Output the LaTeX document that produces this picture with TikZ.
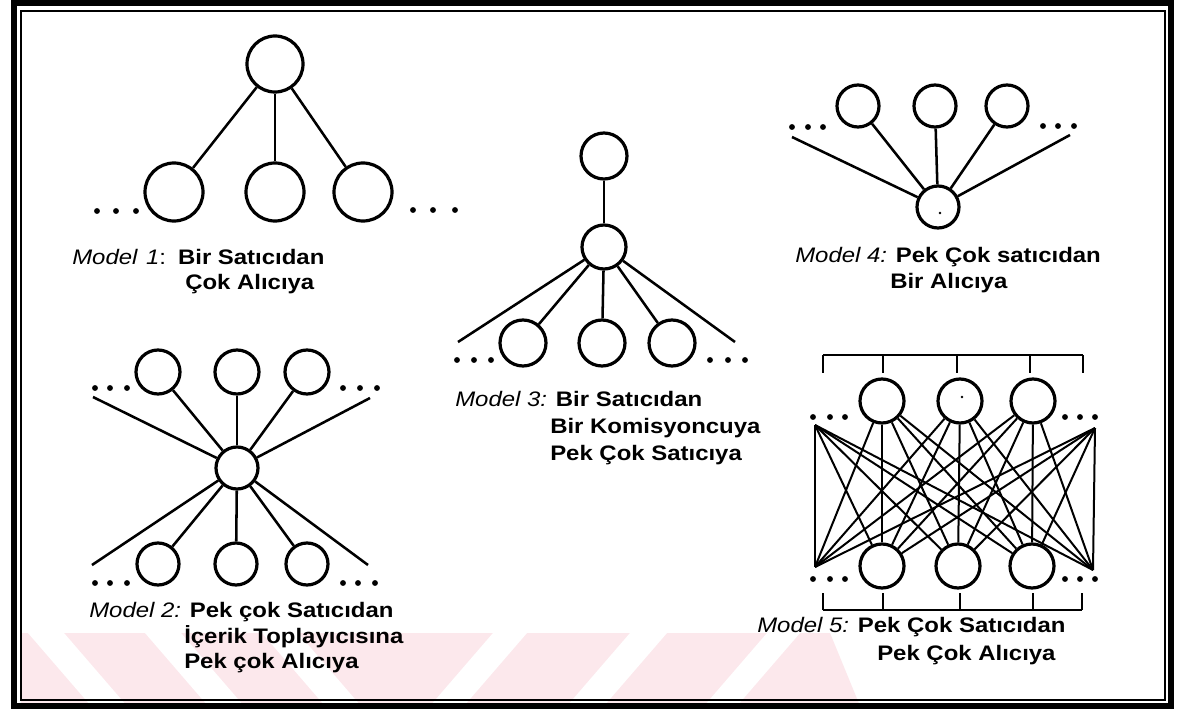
\documentclass[tikz,border=0pt]{standalone}
\usepackage{fontspec}
\setmainfont{Liberation Sans}[FakeStretch=1.14]
\definecolor{wmpink}{RGB}{252,232,236}
\begin{document}
\begin{tikzpicture}[x=0.75pt,y=-0.75pt,
  circ/.style={circle,draw,line width=2.4pt,inner sep=0pt,minimum size=#1*1.5pt},
  link/.style={line width=1.9pt},
  meshline/.style={line width=1.5pt},
  brk/.style={line width=1.4pt},
  dotn/.style={circle,fill,inner sep=0pt,minimum size=4.4pt},
  speck/.style={circle,fill,inner sep=0pt,minimum size=2pt},
  captxt/.style={anchor=base west,inner sep=0pt,font=\fontsize{15.75pt}{19pt}\selectfont}]

% page and watermark band
\useasboundingbox (0,0) rectangle (1185,724);
\fill[white] (0,0) rectangle (1185,724);
\fill[wmpink] (21,633) -- (830,633) -- (860,706) -- (21,706) -- cycle;
\fill[white] (28,633) -- (64,633) -- (127,706) -- (91,706) -- cycle;
\fill[white] (145,633) -- (181,633) -- (244,706) -- (208,706) -- cycle;
\fill[white] (262,633) -- (298,633) -- (361,706) -- (325,706) -- cycle;
\fill[white] (493,633) -- (527,633) -- (464,706) -- (430,706) -- cycle;
\fill[white] (630,633) -- (667,633) -- (604,706) -- (567,706) -- cycle;
\fill[white] (767,633) -- (800,633) -- (737,706) -- (704,706) -- cycle;

% double frame
\draw[line width=3.9pt] (14,3) rectangle (1171,706);
\draw[line width=1.1pt] (21,11) rectangle (1165,700);

% ---------------- Model 1 ----------------
\node[circ=28] (m1t) at (275,64) {};
\node[circ=29] (m1a) at (174,192) {};
\node[circ=29] (m1b) at (275,192) {};
\node[circ=29] (m1c) at (363,192) {};
\foreach \n in {m1a,m1b,m1c} \draw[link] (m1t) -- (\n);
\node[dotn] (m1d1) at (97,211) {};
\node[dotn] (m1d2) at (116,211) {};
\node[dotn] (m1d3) at (136,211) {};
\node[dotn] (m1d4) at (413,210) {};
\node[dotn] (m1d5) at (433,210) {};
\node[dotn] (m1d6) at (455,210) {};
\node[captxt] (m1l1) at (72,264) {\textit{Model\hspace*{1.5pt} 1}:\hspace*{4pt} \textbf{Bir Satıcıdan}};
\node[captxt] (m1l2) at (185,289) {\textbf{Çok Alıcıya}};

% ---------------- Model 2 ----------------
\node[circ=22] (m2t1) at (158,372) {};
\node[circ=22] (m2t2) at (237,372) {};
\node[circ=22] (m2t3) at (307,372) {};
\node[circ=21] (m2h) at (237,468) {};
\node[circ=21] (m2b1) at (158,564) {};
\node[circ=21] (m2b2) at (236,564) {};
\node[circ=21] (m2b3) at (307,564) {};
\coordinate (m2e1) at (93,397);
\coordinate (m2e2) at (370,398);
\coordinate (m2e3) at (92,565);
\coordinate (m2e4) at (368,565);
\foreach \n in {m2t1,m2t2,m2t3,m2b1,m2b2,m2b3,m2e1,m2e2,m2e3,m2e4}
  \draw[link] (m2h) -- (\n);
\node[dotn] (m2d1) at (95,388) {};
\node[dotn] (m2d2) at (110,388) {};
\node[dotn] (m2d3) at (127,388) {};
\node[dotn] (m2d4) at (343,388) {};
\node[dotn] (m2d5) at (360,388) {};
\node[dotn] (m2d6) at (377,388) {};
\node[dotn] (m2d7) at (95,583) {};
\node[dotn] (m2d8) at (110,583) {};
\node[dotn] (m2d9) at (127,583) {};
\node[dotn] (m2d10) at (343,583) {};
\node[dotn] (m2d11) at (358,583) {};
\node[dotn] (m2d12) at (375,583) {};
\node[captxt] (m2l1) at (89,617) {\textit{Model 2:} \textbf{Pek çok Satıcıdan}};
\node[captxt] (m2l2) at (184,643) {\textbf{İçerik Toplayıcısına}};
\node[captxt] (m2l3) at (184,668) {\textbf{Pek çok Alıcıya}};

% ---------------- Model 3 ----------------
\node[circ=23] (m3t) at (604,156) {};
\node[circ=22] (m3h) at (604,247) {};
\node[circ=23] (m3b1) at (523,343) {};
\node[circ=23] (m3b2) at (602,343) {};
\node[circ=23] (m3b3) at (672,343) {};
\coordinate (m3e1) at (458,342);
\coordinate (m3e2) at (735,342);
\draw[link] (m3t) -- (m3h);
\foreach \n in {m3b1,m3b2,m3b3,m3e1,m3e2} \draw[link] (m3h) -- (\n);
\node[dotn] (m3d1) at (457,360) {};
\node[dotn] (m3d2) at (474,360) {};
\node[dotn] (m3d3) at (491,360) {};
\node[dotn] (m3d4) at (710,360) {};
\node[dotn] (m3d5) at (728,360) {};
\node[dotn] (m3d6) at (745,360) {};
\node[captxt] (m3l1) at (455,406) {\textit{Model 3:} \textbf{Bir Satıcıdan}};
\node[captxt] (m3l2) at (550,433) {\textbf{Bir Komisyoncuya}};
\node[captxt] (m3l3) at (550,460) {\textbf{Pek Çok Satıcıya}};

% ---------------- Model 4 ----------------
\node[circ=21] (m4t1) at (858,106) {};
\node[circ=21] (m4t2) at (935,106) {};
\node[circ=21] (m4t3) at (1007,106) {};
\node[circ=21] (m4h) at (938,207) {};
\node[speck] (m4s) at (940,213) {};
\coordinate (m4e1) at (792,137);
\coordinate (m4e2) at (1070,135);
\foreach \n in {m4t1,m4t2,m4t3,m4e1,m4e2} \draw[link] (m4h) -- (\n);
\node[dotn] (m4d1) at (792,127) {};
\node[dotn] (m4d2) at (808,127) {};
\node[dotn] (m4d3) at (823,127) {};
\node[dotn] (m4d4) at (1043,126) {};
\node[dotn] (m4d5) at (1058,126) {};
\node[dotn] (m4d6) at (1074,126) {};
\node[captxt] (m4l1) at (795,262) {\textit{Model 4:} \textbf{Pek Çok satıcıdan}};
\node[captxt] (m4l2) at (890,288) {\textbf{Bir Alıcıya}};

% ---------------- Model 5 ----------------
\node[circ=22] (m5t1) at (882,401) {};
\node[circ=22] (m5t2) at (960,401) {};
\node[circ=22] (m5t3) at (1033,401) {};
\node[circ=22] (m5b1) at (882,566) {};
\node[circ=22] (m5b2) at (958,566) {};
\node[circ=22] (m5b3) at (1032,566) {};
\node[speck] (m5s) at (962,397) {};
\coordinate (m5L) at (815,425);
\coordinate (m5R) at (1095,428);
\coordinate (m5Lb) at (815,567);
\coordinate (m5Rb) at (1093,570);
\foreach \u in {m5L,m5t1,m5t2,m5t3,m5R}
  \foreach \v in {m5Lb,m5b1,m5b2,m5b3,m5Rb}
    \draw[meshline] (\u) -- (\v);
% brackets above and below
\coordinate (k1) at (823,355); \coordinate (k2) at (883,355);
\coordinate (k3) at (957,355); \coordinate (k4) at (1030,355);
\coordinate (k5) at (1083,355);
\draw[brk] (k1) -- (k5);
\foreach \k in {k1,k2,k3,k4,k5} \draw[brk] (\k) -- ++(0,18);
\coordinate (q1) at (823,610); \coordinate (q2) at (883,610);
\coordinate (q3) at (960,610); \coordinate (q4) at (1033,610);
\coordinate (q5) at (1082,610);
\draw[brk] (q1) -- (q5);
\foreach \k in {q1,q2,q3,q4,q5} \draw[brk] (\k) -- ++(0,-17);
\node[dotn] (m5d1) at (813,417) {};
\node[dotn] (m5d2) at (830,417) {};
\node[dotn] (m5d3) at (845,417) {};
\node[dotn] (m5d4) at (1065,417) {};
\node[dotn] (m5d5) at (1080,417) {};
\node[dotn] (m5d6) at (1095,417) {};
\node[dotn] (m5d7) at (813,579) {};
\node[dotn] (m5d8) at (830,579) {};
\node[dotn] (m5d9) at (845,579) {};
\node[dotn] (m5d10) at (1065,579) {};
\node[dotn] (m5d11) at (1080,579) {};
\node[dotn] (m5d12) at (1095,579) {};
\node[captxt] (m5l1) at (757,632) {\textit{Model 5:} \textbf{Pek Çok Satıcıdan}};
\node[captxt] (m5l2) at (877,660) {\textbf{Pek Çok Alıcıya}};
\end{tikzpicture}
\end{document}
